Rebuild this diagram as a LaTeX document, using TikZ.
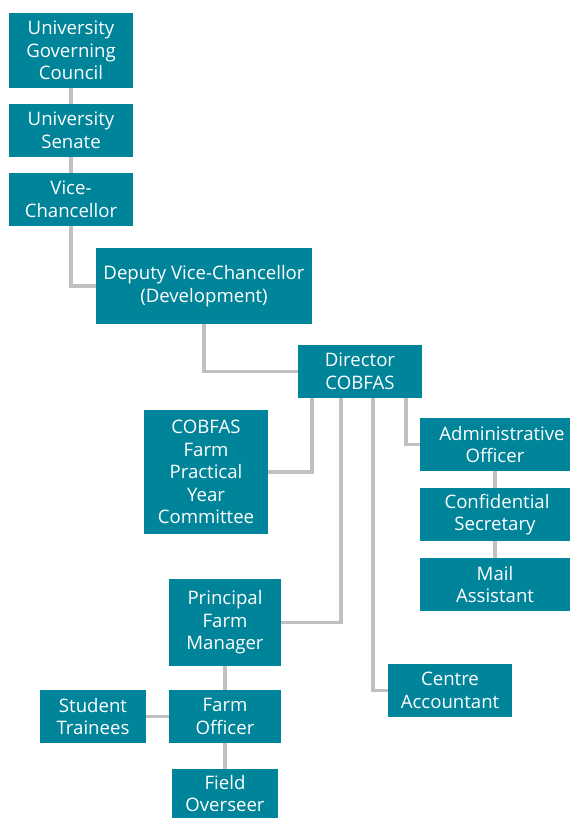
\documentclass[tikz,border=0pt]{standalone}
\usepackage{fontspec}
\setmainfont{Open Sans}
\usepackage{tikz}
\usetikzlibrary{calc,backgrounds}
\definecolor{teal}{HTML}{00849A}
\definecolor{linegrey}{HTML}{C0C0C4}
\tikzset{
  unit/.style={fill=teal, text=white, inner sep=0pt, align=center,
    font=\fontsize{18.6}{22.5}\selectfont},
  link/.style={draw=linegrey, line width=3.2pt}
}

\begin{document}
\begin{tikzpicture}[x=1pt,y=1pt]
\useasboundingbox (0,0) rectangle (570,-818);
% university level
\node[unit, minimum width=124, minimum height=75] (ugc) at (71,-50.5) {University\\Governing\\Council};
\node[unit, minimum width=124, minimum height=53] (senate) at (71,-130.5) {University\\Senate};
\node[unit, minimum width=124, minimum height=53] (vc) at (71,-199.5) {Vice-\\Chancellor};
\node[unit, minimum width=216, minimum height=76] (dvc) at (204,-286) {Deputy Vice-Chancellor\\(Development)};
\node[unit, minimum width=124, minimum height=53] (dir) at (360,-371.5) {Director\\COBFAS};
% under the director
\node[unit, minimum width=124, minimum height=124] (cmte) at (206,-472) {COBFAS\\Farm\\Practical\\Year\\Committee};
\node[unit, minimum width=150, minimum height=53] (admin) at (495,-444.5) {\hspace*{14pt}Administrative\\Officer};
\node[unit, minimum width=150, minimum height=53] (conf) at (495,-514.5) {\hspace*{4pt}Confidential\\Secretary};
\node[unit, minimum width=150, minimum height=53] (mail) at (495,-584.5) {Mail\\Assistant};
\node[unit, minimum width=112, minimum height=87] (pfm) at (225,-622.5) {Principal\\Farm\\Manager};
\node[unit, minimum width=124, minimum height=53] (acct) at (450,-690.5) {Centre\\Accountant};
% farm staff
\node[unit, minimum width=112, minimum height=53] (fo) at (225,-716.5) {Farm\\Officer};
\node[unit, minimum width=106, minimum height=53] (trainees) at (93,-716.5) {Student\\Trainees};
\node[unit, minimum width=106, minimum height=49] (overseer) at (225,-793.5) {Field\\Overseer};

\begin{scope}[on background layer]
\draw[link] (ugc) -- (senate);
\draw[link] (senate) -- (vc);
\draw[link] (vc.south) |- (dvc.west);
\draw[link] (dvc.south) |- (dir.west);
\draw[link] ([xshift=-48]dir.south) |- (cmte.east);
\draw[link] ([xshift=-19]dir.south) |- (pfm.east);
\draw[link] ([xshift=13]dir.south) |- (acct.west);
\draw[link] ([xshift=46]dir.south) |- (admin.west);
\draw[link] (admin) -- (conf);
\draw[link] (conf) -- (mail);
\draw[link] (pfm) -- (fo);
\draw[link] (fo) -- (overseer);
\draw[link] (trainees) -- (fo);
\end{scope}
\end{tikzpicture}
\end{document}
